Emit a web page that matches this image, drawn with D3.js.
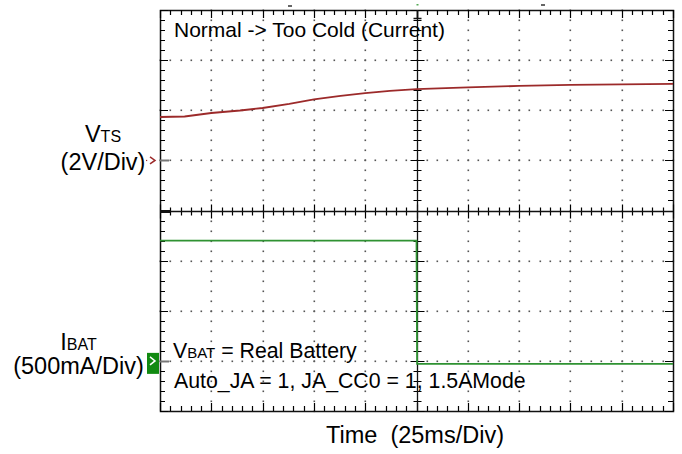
<!DOCTYPE html>
<html>
<head>
<meta charset="utf-8">
<script src="https://cdn.jsdelivr.net/npm/d3@7"></script>
<style>
  body { margin: 0; background: #fff; }
  svg { display: block; font-family: "Liberation Sans", Arial, Helvetica, sans-serif; }
</style>
</head>
<body>
<svg id="scope" width="682" height="454"></svg>
<script>
// ── DATA ──────────────────────────────────────────────────────
// time in ms (25 ms/div, trigger at centre), VTS in volts, IBAT in amps
const vtsTime  = [-125, -113, -100, -86, -75, -62, -50, -37, -25, -13, 0, 25, 50, 75, 100, 125];
const vtsVolts = [1.73, 1.75, 1.89, 1.99, 2.09, 2.25, 2.43, 2.57, 2.68, 2.77, 2.84, 2.91, 2.97, 3.01, 3.03, 3.05];

const ibatTime = [-125, 0, 0.3, 125];
const ibatAmps = [1.2, 1.2, -0.03, -0.03];

const vtsScalePerDiv  = 2;     // V/div
const ibatScalePerDiv = 0.5;   // A/div
const vtsZeroDiv  = 1;         // ground marker position (div from centre)
const ibatZeroDiv = -3;

const title      = "Normal -> Too Cold (Current)";
const noteLine2  = "Auto_JA = 1, JA_CC0 = 1, 1.5AMode";
const xAxisLabel = "Time  (25ms/Div)";

// ── LAYOUT ────────────────────────────────────────────────────
const svg = d3.select("#scope");
const plotL = 160, plotR = 673, plotT = 10, plotB = 411;

const xScale = d3.scaleLinear().domain([-125, 125]).range([plotL, plotR]);
const xDiv   = d3.scaleLinear().domain([-5, 5]).range([plotL, plotR]);
const yDiv   = d3.scaleLinear().domain([-4, 4]).range([plotB, plotT]);

// snap to pixel centres so 1px strokes stay crisp
const px = v => Math.round(v) + 0.5;

const yVts  = v => yDiv(vtsZeroDiv + v / vtsScalePerDiv);
const yIbat = a => yDiv(ibatZeroDiv + a / ibatScalePerDiv);

const grid = svg.append("g");

// ── GRID DOTS ─────────────────────────────────────────────────
const minorX = d3.range(0, 51).map(i => -5 + i * 0.2);
const minorY = d3.range(0, 41).map(i => -4 + i * 0.2);
const dots = [];
[-4, -3, -2, -1, 1, 2, 3, 4].forEach(d => {
  minorY.forEach(m => dots.push([xDiv(d), yDiv(m)]));
});
[-3, -2, -1, 1, 2, 3].forEach(d => {
  minorX.forEach(m => dots.push([xDiv(m), yDiv(d)]));
});
grid.append("g").selectAll("rect")
  .data(dots)
  .join("rect")
    .attr("x", d => Math.round(d[0]) - 0.5)
    .attr("y", d => Math.round(d[1]) - 0.5)
    .attr("width", 1.6)
    .attr("height", 1.6)
    .attr("fill", "#555");

// ── BORDER + TICKS ────────────────────────────────────────────
grid.append("rect")
  .attr("x", px(plotL)).attr("y", px(plotT))
  .attr("width", Math.round(plotR - plotL)).attr("height", Math.round(plotB - plotT))
  .attr("fill", "none").attr("stroke", "#111").attr("stroke-width", 1.5);

const isMajor = (v) => Math.abs(v - Math.round(v)) < 1e-6;
const tickLen = (v) => isMajor(v) ? 8 : 5;
const yC = px(yDiv(0)), xC = px(xDiv(0));

// one path for all tick marks
let tickPath = "";
minorX.forEach(m => {
  const x = px(xDiv(m));
  const h = isMajor(m) ? 7 : 4;
  tickPath += `M${x},${plotT}v${tickLen(m)}`;
  tickPath += `M${x},${plotB}v${-tickLen(m)}`;
  tickPath += `M${x},${yC - h}v${2 * h}`;
});
minorY.forEach(m => {
  const y = px(yDiv(m));
  const h = isMajor(m) ? 7 : 4;
  tickPath += `M${plotL},${y}h${tickLen(m)}`;
  tickPath += `M${plotR},${y}h${-tickLen(m)}`;
  tickPath += `M${xC - h},${y}h${2 * h}`;
});
grid.append("path")
  .attr("d", tickPath)
  .attr("fill", "none")
  .attr("stroke", "#000")
  .attr("stroke-width", 1.2);

// centre lines
grid.append("path")
  .attr("d", `M${plotL},${yC}H${plotR}M${xC},${plotT}V${plotB}`)
  .attr("stroke", "#111").attr("stroke-width", 1.3).attr("fill", "none");
grid.append("path")
  .attr("d", `M${plotL},${yC}h10`)
  .attr("stroke", "#111").attr("stroke-width", 3);

// trigger marker at top
grid.append("path")
  .attr("d", `M${xC},${plotT}V${plotT + 8}M${xC - 4},${plotT + 8.5}H${xC + 4}`)
  .attr("stroke", "#111").attr("stroke-width", 1.6).attr("fill", "none");
grid.append("rect").attr("x", xC - 1).attr("y", 4).attr("width", 2).attr("height", 1.5).attr("fill", "#5a5");
grid.append("rect").attr("x", 288).attr("y", 5).attr("width", 4).attr("height", 2).attr("fill", "#666");
grid.append("rect").attr("x", 541).attr("y", 4).attr("width", 4).attr("height", 2).attr("fill", "#666");

// ground reference stubs
[vtsZeroDiv, ibatZeroDiv].forEach(d => {
  grid.append("path")
    .attr("d", `M${plotL},${px(yDiv(d))}h9`)
    .attr("stroke", "#777").attr("stroke-width", 2);
});

// ── TRACES ────────────────────────────────────────────────────
const traceLine = d3.line().x(d => xScale(d[0])).y(d => d[1]);

svg.append("path")
  .datum(vtsTime.map((t, i) => [t, yVts(vtsVolts[i])]))
  .attr("d", traceLine)
  .attr("fill", "none")
  .attr("stroke", "#9c2a2a")
  .attr("stroke-width", 1.8);

svg.append("path")
  .datum(ibatTime.map((t, i) => [t, yIbat(ibatAmps[i])]))
  .attr("d", traceLine)
  .attr("fill", "none")
  .attr("stroke", "#2f9232")
  .attr("stroke-width", 1.8);

// ── CHANNEL MARKERS ───────────────────────────────────────────
const yV0 = yDiv(vtsZeroDiv);
svg.append("path")
  .attr("d", `M150,${yV0 - 3.5} L155,${yV0} L150,${yV0 + 3.5}`)
  .attr("fill", "none").attr("stroke", "#9c2a2a").attr("stroke-width", 1.5);
svg.append("rect").attr("x", 146).attr("y", yV0 - 0.5).attr("width", 1.2).attr("height", 1.2).attr("fill", "#9c2a2a");

const yI0 = yDiv(ibatZeroDiv);
svg.append("rect")
  .attr("x", 147).attr("y", yI0 - 8).attr("width", 12).attr("height", 21)
  .attr("fill", "#118a11");
svg.append("path")
  .attr("d", `M150,${yI0 - 4} L155,${yI0} L150,${yI0 + 4}`)
  .attr("fill", "none").attr("stroke", "#fff").attr("stroke-width", 1.5);

// ── TEXT ──────────────────────────────────────────────────────
const txt = (x, y, size, anchor) => svg.append("text")
  .attr("x", x).attr("y", y)
  .attr("font-size", size)
  .attr("text-anchor", anchor || "start")
  .attr("fill", "#000");

txt(174, 37, 21).text(title);

const vts = txt(103, 142, 23.5, "middle");
vts.append("tspan").text("V");
vts.append("tspan").attr("font-size", 16).text("TS");
txt(103, 170, 23.5, "middle").text("(2V/Div)");

const ibat = txt(78.5, 350, 23.5, "middle");
ibat.append("tspan").text("I");
ibat.append("tspan").attr("font-size", 16).text("BAT");
txt(78.5, 374, 23.5, "middle").text("(500mA/Div)");

const vbat = txt(173, 358, 21.3);
vbat.append("tspan").text("V");
vbat.append("tspan").attr("font-size", 15).text("BAT");
vbat.append("tspan").text(" = Real Battery");
txt(174, 388, 21.3).text(noteLine2);

txt(415, 443, 23.5, "middle").text(xAxisLabel).style("white-space", "pre");
</script>
</body>
</html>
